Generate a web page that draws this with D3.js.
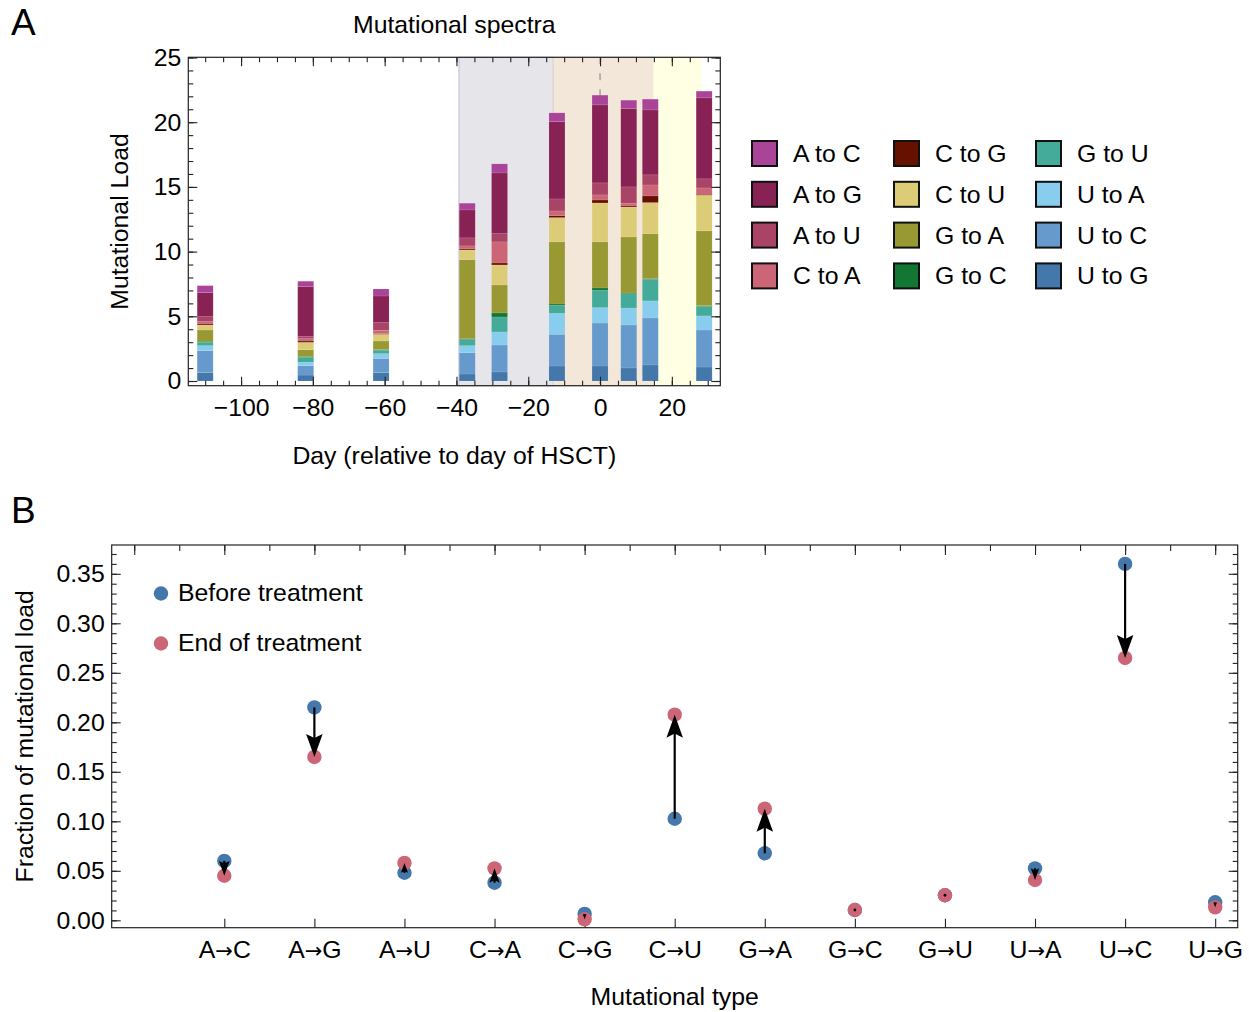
<!DOCTYPE html>
<html>
<head>
<meta charset="utf-8">
<script src="https://cdn.jsdelivr.net/npm/d3@7"></script>
<style>
  body { margin: 0; background: #fff; }
  svg { display: block; font-family: "Liberation Sans", Arial, sans-serif; }
</style>
</head>
<body>
<svg id="fig" width="1249" height="1012"></svg>
<script>
// ---- panel A data: mutational load per sample ----
const sampleDays = [-110, -82, -61, -37, -28, -12, 0, 8, 14, 29];
const mutTypes = ["A to C", "A to G", "A to U", "C to A", "C to G", "C to U",
                  "G to A", "G to C", "G to U", "U to A", "U to C", "U to G"];
const mutColors = ["#AA4499", "#882255", "#AA4466", "#CC6677", "#661100", "#DDCC77",
                   "#999933", "#117733", "#44AA99", "#88CCEE", "#6699CC", "#4477AA"];
const loadAtoC = [0.54, 0.42, 0.54, 0.52, 0.70, 0.67, 0.75, 0.64, 0.83, 0.52];
const loadAtoG = [1.86, 3.86, 2.06, 2.16, 4.69, 5.98, 6.03, 6.06, 5.02, 6.26];
const loadAtoU = [0.38, 0.16, 0.59, 0.62, 0.64, 0.93, 0.93, 1.26, 0.78, 0.70];
const loadCtoA = [0.18, 0.18, 0.26, 0.23, 1.63, 0.36, 0.39, 0.21, 0.85, 0.49];
const loadCtoG = [0.08, 0.10, 0.05, 0.08, 0.15, 0.15, 0.23, 0.08, 0.51, 0.07];
const loadCtoU = [0.39, 0.57, 0.52, 0.75, 1.55, 1.88, 3.01, 2.32, 2.40, 2.76];
const loadGtoA = [0.87, 0.52, 0.67, 6.11, 2.16, 4.80, 3.56, 4.33, 3.48, 5.78];
const loadGtoC = [0.08, 0.07, 0.05, 0.05, 0.31, 0.10, 0.18, 0.05, 0.05, 0.05];
const loadGtoU = [0.26, 0.39, 0.26, 0.49, 1.16, 0.62, 1.34, 1.11, 1.67, 0.74];
const loadUtoA = [0.38, 0.25, 0.36, 0.54, 1.01, 1.62, 1.19, 1.31, 1.32, 1.09];
const loadUtoC = [1.71, 0.73, 1.11, 1.65, 2.08, 2.45, 3.32, 3.32, 3.63, 2.86];
const loadUtoG = [0.64, 0.46, 0.64, 0.54, 0.70, 1.16, 1.16, 1.01, 1.24, 1.08];

// treatment periods (shaded backgrounds)
const periodStart = [-39.3, -13, 15];
const periodEnd = [-13, 15, 28.1];
const periodFill = ["#e6e6ea", "#f3e7da", "#ffffe3"];
const periodEdge = ["#c9c2dc", "#e8d6d0", "#ffffe3"];

// ---- panel B data: fraction of mutational load ----
const typeLabels = ["A→C", "A→G", "A→U", "C→A", "C→G", "C→U",
                    "G→A", "G→C", "G→U", "U→A", "U→C", "U→G"];
const fracBefore = [0.060, 0.215, 0.048, 0.038, 0.0064, 0.1026, 0.0677, 0.0104, 0.0253, 0.0525, 0.360, 0.0182];
const fracEnd    = [0.045, 0.165, 0.058, 0.0525, 0.001, 0.2077, 0.1128, 0.0104, 0.0253, 0.0407, 0.265, 0.0131];

const blue = "#4477AA", red = "#CC6677";
const frameColor = "#222";
const fs = 24.8;

const svg = d3.select("#fig");

function styleAxis(g) {
    g.select(".domain").remove();
    g.selectAll("line").attr("stroke", frameColor).attr("stroke-width", 1.1);
    g.selectAll("text").attr("fill", "#000").style("font-size", fs + "px")
        .style("font-family", '"Liberation Sans", Arial, sans-serif');
}

// ================= PANEL A =================
const A = {left: 188.3, right: 720.3, top: 57.3, bottom: 385.7};
const xA = d3.scaleLinear().domain([-114.7, 33.5]).range([A.left, A.right]);
const yA = d3.scaleLinear().domain([0, 25]).range([381, 57.5]);
const barDays = 4.45;

let gA = svg.append("g");

gA.selectAll("rect.period")
    .data(periodStart.map((s, i) => ({s: s, e: periodEnd[i], fill: periodFill[i], edge: periodEdge[i]})))
    .enter().append("rect")
    .attr("class", "period")
    .attr("x", d => xA(d.s))
    .attr("y", A.top)
    .attr("width", d => xA(d.e) - xA(d.s))
    .attr("height", A.bottom - A.top)
    .attr("fill", d => d.fill)
    .attr("stroke", d => d.edge)
    .attr("stroke-width", 1.2);

// day of HSCT
gA.append("line")
    .attr("x1", xA(0)).attr("x2", xA(0))
    .attr("y1", A.top).attr("y2", A.bottom)
    .attr("stroke", "#a8a8a8")
    .attr("stroke-width", 1.6)
    .attr("stroke-dasharray", "7,9");

const loads = [loadAtoC, loadAtoG, loadAtoU, loadCtoA, loadCtoG, loadCtoU,
               loadGtoA, loadGtoC, loadGtoU, loadUtoA, loadUtoC, loadUtoG];
const rows = sampleDays.map((day, j) => {
    let r = {day: day};
    mutTypes.forEach((t, k) => r[t] = loads[k][j]);
    return r;
});
const colorA = d3.scaleOrdinal().domain(mutTypes).range(mutColors);
// bottom of the stack is U to G, top is A to C
const stack = d3.stack().keys(mutTypes.slice().reverse());

gA.selectAll("g.layer")
    .data(stack(rows))
    .enter().append("g")
    .attr("class", "layer")
    .attr("fill", d => colorA(d.key))
    .selectAll("rect")
    .data(d => d)
    .enter().append("rect")
    .attr("x", d => xA(d.data.day - barDays / 2))
    .attr("width", d => xA(d.data.day + barDays / 2) - xA(d.data.day - barDays / 2))
    .attr("y", d => yA(d[1]))
    .attr("height", d => yA(d[0]) - yA(d[1]))
    .attr("stroke", "#fff")
    .attr("stroke-opacity", 0.15)
    .attr("stroke-width", 0.6);

// ticks
const yMajA = d3.range(0, 26, 5), yMinA = d3.range(0, 26, 1);
const xMajA = d3.range(-100, 21, 20), xMinA = d3.range(-110, 34, 5);
gA.append("g").attr("transform", `translate(${A.left},0)`)
    .call(d3.axisLeft(yA).tickValues(yMinA).tickSize(-5).tickFormat("")).call(styleAxis);
gA.append("g").attr("transform", `translate(${A.left},0)`)
    .call(d3.axisLeft(yA).tickValues(yMajA).tickSize(-9).tickPadding(7).tickFormat(d3.format("d")))
    .call(styleAxis);
gA.append("g").attr("transform", `translate(${A.right},0)`)
    .call(d3.axisRight(yA).tickValues(yMinA).tickSize(-5).tickFormat("")).call(styleAxis);
gA.append("g").attr("transform", `translate(${A.right},0)`)
    .call(d3.axisRight(yA).tickValues(yMajA).tickSize(-9).tickFormat("")).call(styleAxis);
gA.append("g").attr("transform", `translate(0,${A.bottom})`)
    .call(d3.axisBottom(xA).tickValues(xMinA).tickSize(-5).tickFormat("")).call(styleAxis);
gA.append("g").attr("transform", `translate(0,${A.bottom})`)
    .call(d3.axisBottom(xA).tickValues(xMajA).tickSize(-9).tickPadding(13).tickFormat(d3.format("d")))
    .call(styleAxis);
gA.append("g").attr("transform", `translate(0,${A.top})`)
    .call(d3.axisTop(xA).tickValues(xMinA).tickSize(-5).tickFormat("")).call(styleAxis);
gA.append("g").attr("transform", `translate(0,${A.top})`)
    .call(d3.axisTop(xA).tickValues(xMajA).tickSize(-9).tickFormat("")).call(styleAxis);

gA.append("rect")
    .attr("x", A.left).attr("y", A.top)
    .attr("width", A.right - A.left).attr("height", A.bottom - A.top)
    .attr("fill", "none").attr("stroke", frameColor).attr("stroke-width", 1.2);

gA.append("text").attr("x", (A.left + A.right) / 2).attr("y", 33)
    .attr("text-anchor", "middle").attr("font-size", fs).text("Mutational spectra");
gA.append("text").attr("x", (A.left + A.right) / 2).attr("y", 464)
    .attr("text-anchor", "middle").attr("font-size", fs).text("Day (relative to day of HSCT)");
gA.append("text").attr("transform", `translate(128,${(A.top + A.bottom) / 2}) rotate(-90)`)
    .attr("text-anchor", "middle").attr("font-size", fs).text("Mutational Load");
svg.append("text").attr("x", 11).attr("y", 35).attr("font-size", 37).text("A");

// legend
const legA = svg.append("g").selectAll("g")
    .data(mutTypes)
    .enter().append("g")
    .attr("transform", (d, i) => `translate(${752 + Math.floor(i / 4) * 142},${141 + (i % 4) * 40.8})`);
legA.append("rect")
    .attr("width", 25).attr("height", 25)
    .attr("fill", d => colorA(d))
    .attr("stroke", "#111").attr("stroke-width", 2);
legA.append("text")
    .attr("x", 41).attr("y", 21)
    .attr("font-size", fs)
    .text(d => d);

// ================= PANEL B =================
const B = {left: 111.7, right: 1237.7, top: 545, bottom: 927.7};
const xB = d3.scaleLinear().domain([-0.25, 12.25]).range([B.left, B.right]);
const yB = d3.scaleLinear().domain([0, 0.35]).range([920.3, 573.8]);

let gB = svg.append("g");

const yMajB = d3.range(0, 0.3501, 0.05).map(v => +v.toFixed(2));
const yMinB = d3.range(0, 0.3751, 0.01).map(v => +v.toFixed(2));
const idx = d3.range(1, 13);
gB.append("g").attr("transform", `translate(${B.left},0)`)
    .call(d3.axisLeft(yB).tickValues(yMinB).tickSize(-5).tickFormat("")).call(styleAxis);
gB.append("g").attr("transform", `translate(${B.left},0)`)
    .call(d3.axisLeft(yB).tickValues(yMajB).tickSize(-9).tickPadding(7).tickFormat(d3.format(".2f")))
    .call(styleAxis);
gB.append("g").attr("transform", `translate(${B.right},0)`)
    .call(d3.axisRight(yB).tickValues(yMinB).tickSize(-5).tickFormat("")).call(styleAxis);
gB.append("g").attr("transform", `translate(${B.right},0)`)
    .call(d3.axisRight(yB).tickValues(yMajB).tickSize(-9).tickFormat("")).call(styleAxis);
let xAxisB = gB.append("g").attr("transform", `translate(0,${B.bottom})`)
    .call(d3.axisBottom(xB).tickValues(idx).tickSize(-9).tickPadding(13).tickFormat(i => typeLabels[i - 1]))
    .call(styleAxis);
// the arrow glyph reads better in DejaVu
xAxisB.selectAll(".tick text").each(function() {
    let t = d3.select(this), parts = t.text().split("→");
    t.text(null);
    t.append("tspan").text(parts[0]);
    t.append("tspan").style("font-family", '"DejaVu Sans", sans-serif').style("font-size", "21px").text("→");
    t.append("tspan").text(parts[1]);
});
gB.append("g").attr("transform", `translate(0,${B.top})`)
    .call(d3.axisTop(xB).tickValues(d3.range(0, 12.01, 0.5)).tickSize(-6).tickFormat("")).call(styleAxis);
gB.append("g").attr("transform", `translate(0,${B.top})`)
    .call(d3.axisTop(xB).tickValues(d3.range(0, 13)).tickSize(-10).tickFormat("")).call(styleAxis);

gB.append("rect")
    .attr("x", B.left).attr("y", B.top)
    .attr("width", B.right - B.left).attr("height", B.bottom - B.top)
    .attr("fill", "none").attr("stroke", frameColor).attr("stroke-width", 1.2);

const pts = typeLabels.map((t, i) => ({i: i + 1, before: fracBefore[i], end: fracEnd[i]}));

gB.selectAll("circle.before").data(pts).enter().append("circle")
    .attr("class", "before")
    .attr("cx", d => xB(d.i)).attr("cy", d => yB(d.before)).attr("r", 7.2)
    .attr("fill", blue);
gB.selectAll("circle.end").data(pts).enter().append("circle")
    .attr("class", "end")
    .attr("cx", d => xB(d.i)).attr("cy", d => yB(d.end)).attr("r", 7.2)
    .attr("fill", red);

// arrows from before to end of treatment
pts.forEach(d => {
    let x = xB(d.i), y1 = yB(d.before), y2 = yB(d.end);
    let len = Math.abs(y2 - y1);
    if (len < 1.5) {
        gB.append("circle").attr("cx", x).attr("cy", y2).attr("r", 1.4).attr("fill", "#000");
        return;
    }
    let dir = y2 > y1 ? 1 : -1;
    let h = Math.min(23, len);
    let w = h * 0.36;
    gB.append("line")
        .attr("x1", x).attr("x2", x)
        .attr("y1", y1).attr("y2", y2 - dir * h * 0.8)
        .attr("stroke", "#000").attr("stroke-width", 2.2);
    gB.append("path")
        .attr("d", `M${x},${y2} L${x - w},${y2 - dir * h} L${x},${y2 - dir * h * 0.82} L${x + w},${y2 - dir * h} Z`)
        .attr("fill", "#000");
});

gB.append("text").attr("x", (B.left + B.right) / 2).attr("y", 1005)
    .attr("text-anchor", "middle").attr("font-size", fs).text("Mutational type");
gB.append("text").attr("transform", `translate(33,${(B.top + B.bottom) / 2}) rotate(-90)`)
    .attr("text-anchor", "middle").attr("font-size", fs).text("Fraction of mutational load");
svg.append("text").attr("x", 11).attr("y", 523).attr("font-size", 37).text("B");

// legend B
const legB = [{label: "Before treatment", color: blue}, {label: "End of treatment", color: red}];
const lg = gB.selectAll("g.leg").data(legB).enter().append("g")
    .attr("class", "leg")
    .attr("transform", (d, i) => `translate(161,${593.5 + i * 50})`);
lg.append("circle").attr("r", 7.2).attr("fill", d => d.color);
lg.append("text").attr("x", 17).attr("y", 7).attr("font-size", fs).text(d => d.label);
</script>
</body>
</html>
